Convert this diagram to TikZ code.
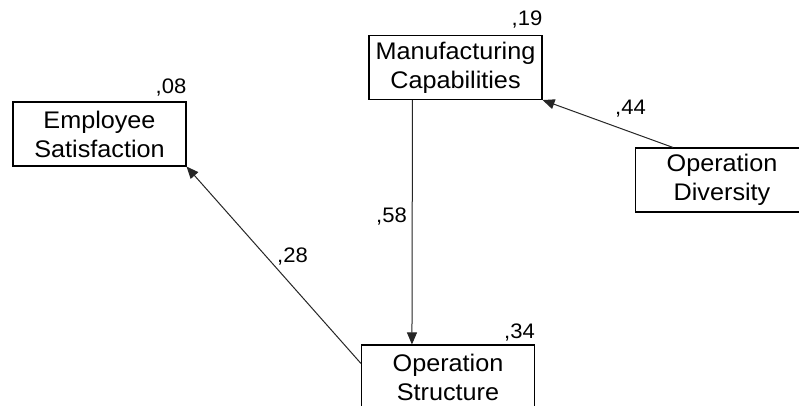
\documentclass[tikz,border=0pt]{standalone}
\usepackage{fontspec}
\setmainfont[FakeStretch=1.05]{Liberation Sans}
\usetikzlibrary{arrows.meta,calc}
\begin{document}
\begin{tikzpicture}[x=1pt,y=-1pt,
  varbox/.style={draw=black,line width=1.1pt,minimum width=173pt,minimum height=64pt,
    align=center,inner sep=0pt,font=\fontsize{24}{29}\selectfont},
  coef/.style={font=\fontsize{21}{24}\selectfont,inner sep=0pt},
  path/.style={draw=black!85,line width=1pt,-{Triangle[length=12pt,width=10pt]}}]
\useasboundingbox (0,0) rectangle (799,406);
\clip (0,0) rectangle (799,406);
\fill[white] (0,0) rectangle (799,406);
\node[varbox] (es) at (99.5,134) {Employee\\Satisfaction};
\node[varbox] (mc) at (455.5,67.5) {Manufacturing\\Capabilities};
\node[varbox] (od) at (722,180) {Operation\\Diversity};
\node[varbox] (os) at (448,377) {Operation\\Structure};
\node[coef,anchor=base east] (r1) at (es.north east) [yshift=8pt] {,08};
\node[coef,anchor=base east] (r2) at (mc.north east) [yshift=9pt] {,19};
\node[coef,anchor=base east] (r3) at (os.north east) [yshift=6pt] {,34};
\coordinate (odtop) at ($(od.north west)+(38,0)$);
\coordinate (ostop) at ($(os.north west)+(51,0)$);
\coordinate (mcbot) at ($(mc.south west)+(44,0)$);
\coordinate (osleft) at ($(os.north west)+(0,19)$);
\draw[path] (odtop) -- (mc.south east);
\draw[path] (mcbot) -- (ostop);
\draw[path] (osleft) -- (es.south east);
\node[coef,anchor=base west] (c44) at (615,115) {,44};
\node[coef,anchor=base west] (c58) at (376,222) {,58};
\node[coef,anchor=base west] (c28) at (277,262) {,28};
\end{tikzpicture}
\end{document}
